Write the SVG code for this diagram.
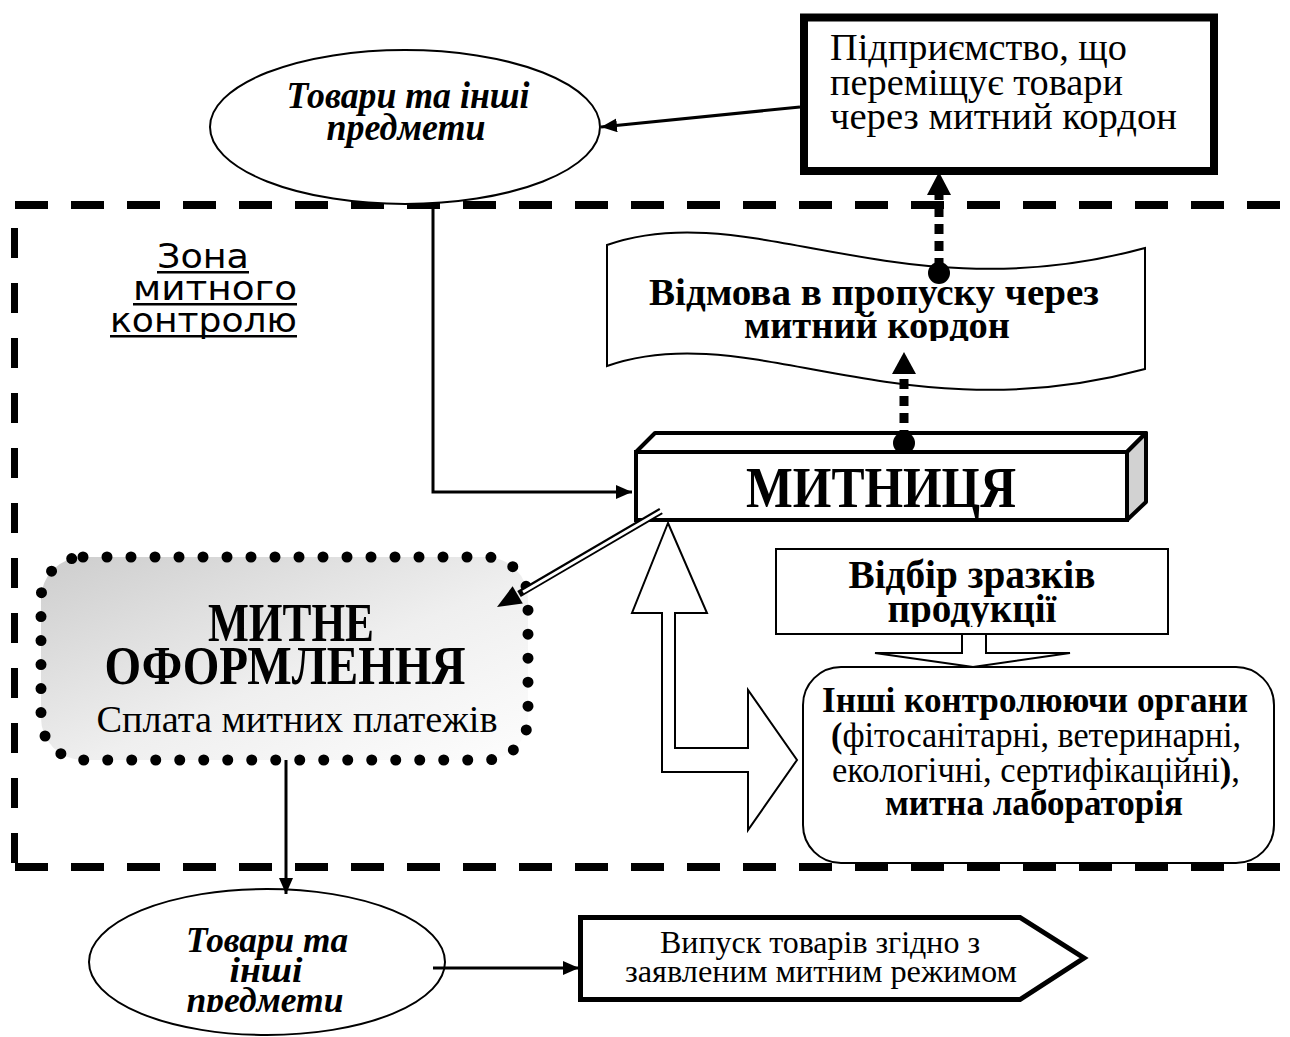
<svg xmlns="http://www.w3.org/2000/svg" width="1290" height="1037" viewBox="0 0 1290 1037">
<defs>
<style>
text{font-family:"Liberation Serif","Times New Roman",serif;fill:#000}
.b{font-weight:bold}
.bi{font-weight:bold;font-style:italic}
.zone{font-family:"DejaVu Sans","Liberation Sans",sans-serif;font-size:33px}
.thin{fill:#fff;stroke:#000;stroke-width:2}
.ln{fill:none;stroke:#000;stroke-width:3}
.dash{fill:none;stroke:#000;stroke-width:8;stroke-dasharray:33 23}
.dots{fill:none;stroke:#000;stroke-width:9;stroke-dasharray:10 7}
</style>
<marker id="arr" markerUnits="userSpaceOnUse" markerWidth="18" markerHeight="16" refX="16" refY="7" orient="auto"><path d="M0,0 L16,7 L0,14 z" fill="#000"/></marker>
<linearGradient id="grad" x1="0" y1="0" x2="1" y2="1">
<stop offset="0" stop-color="#cdcdcd"/>
<stop offset="0.55" stop-color="#efefef"/>
<stop offset="1" stop-color="#fdfdfd"/>
</linearGradient>
<clipPath id="clipBanner"><rect x="600" y="220" width="560" height="121"/></clipPath>
<clipPath id="clipVidbir"><rect x="770" y="540" width="410" height="87"/></clipPath>
<clipPath id="clipBottom"><rect x="80" y="880" width="380" height="132"/></clipPath>
</defs>
<rect width="1290" height="1037" fill="#fff"/>

<g id="zone-frame">
<line class="dash" x1="15" y1="205" x2="1283" y2="205"/>
<line class="dash" x1="15" y1="867" x2="1283" y2="867"/>
<line x1="14.5" y1="228" x2="14.5" y2="866" stroke="#000" stroke-width="7" stroke-dasharray="30 25"/>
<text class="zone" x="157" y="268" textLength="92" lengthAdjust="spacingAndGlyphs">Зона</text>
<rect x="157" y="271" width="92" height="2.5"/>
<text class="zone" x="133" y="300" textLength="164" lengthAdjust="spacingAndGlyphs">митного</text>
<rect x="133" y="303" width="164" height="2.5"/>
<text class="zone" x="110" y="332" textLength="187" lengthAdjust="spacingAndGlyphs">контролю</text>
<rect x="110" y="335" width="187" height="2.5"/>
</g>

<g id="node-goods-top">
<ellipse cx="405" cy="127" rx="195" ry="77" class="thin"/>
<text class="bi" font-size="38" x="408" y="108" text-anchor="middle" textLength="243" lengthAdjust="spacingAndGlyphs">Товари та інші</text>
<text class="bi" font-size="38" x="406" y="140" text-anchor="middle" textLength="159" lengthAdjust="spacingAndGlyphs">предмети</text>
</g>

<g id="node-enterprise">
<rect x="804" y="17.5" width="410" height="153.5" fill="#fff" stroke="#000" stroke-width="8"/>
<text font-size="38" x="830" y="60" textLength="297" lengthAdjust="spacingAndGlyphs">Підприємство, що</text>
<text font-size="38" x="830" y="95" textLength="293" lengthAdjust="spacingAndGlyphs">переміщує товари</text>
<text font-size="38" x="830" y="129" textLength="347" lengthAdjust="spacingAndGlyphs">через митний кордон</text>
</g>

<g id="node-refusal">
<path d="M607,245 C750,195 900,315 1145,248 L1145,369 C900,436 750,316 607,366 Z" class="thin"/>
<g clip-path="url(#clipBanner)">
<text class="b" font-size="38" x="874" y="305" text-anchor="middle" textLength="450" lengthAdjust="spacingAndGlyphs">Відмова в пропуску через</text>
<text class="b" font-size="38" x="877" y="338" text-anchor="middle" textLength="266" lengthAdjust="spacingAndGlyphs">митний кордон</text>
</g>
</g>

<g id="node-customs">
<polygon points="636,452 655,433 1146,433 1127,452" fill="#fff" stroke="#000" stroke-width="4" stroke-linejoin="round"/>
<polygon points="1127,452 1146,433 1146,502 1127,520" fill="#d2d2d2" stroke="#000" stroke-width="4" stroke-linejoin="round"/>
<rect x="636" y="452" width="491" height="68" fill="#fff" stroke="#000" stroke-width="4"/>
<text class="b" font-size="56" x="881" y="507" text-anchor="middle" textLength="270" lengthAdjust="spacingAndGlyphs">МИТНИЦЯ</text>
</g>

<g id="node-clearance">
<rect x="41" y="557" width="487" height="203" rx="42" fill="url(#grad)" stroke="#000" stroke-width="11" stroke-dasharray="0 24" stroke-linecap="round"/>
<text class="b" font-size="54" x="291" y="641" text-anchor="middle" textLength="166" lengthAdjust="spacingAndGlyphs">МИТНЕ</text>
<text class="b" font-size="54" x="285" y="684" text-anchor="middle" textLength="361" lengthAdjust="spacingAndGlyphs">ОФОРМЛЕННЯ</text>
<text font-size="37" x="297" y="732" text-anchor="middle" textLength="401" lengthAdjust="spacingAndGlyphs">Сплата митних платежів</text>
</g>

<g id="node-sampling">
<rect x="776" y="549" width="392" height="85" class="thin"/>
<g clip-path="url(#clipVidbir)">
<text class="b" font-size="40" x="972" y="588" text-anchor="middle" textLength="247" lengthAdjust="spacingAndGlyphs">Відбір зразків</text>
<text class="b" font-size="40" x="972" y="622" text-anchor="middle" textLength="169" lengthAdjust="spacingAndGlyphs">продукції</text>
</g>
</g>

<g id="node-other-bodies">
<rect x="803" y="667" width="471" height="196" rx="38" class="thin"/>
<text class="b" font-size="35" x="1035" y="712" text-anchor="middle" textLength="426" lengthAdjust="spacingAndGlyphs">Інші контролюючи органи</text>
<text font-size="35" x="1036" y="747" text-anchor="middle" textLength="410" lengthAdjust="spacingAndGlyphs"><tspan class="b">(</tspan>фітосанітарні, ветеринарні,</text>
<text font-size="35" x="1036" y="782" text-anchor="middle" textLength="408" lengthAdjust="spacingAndGlyphs">екологічні, сертифікаційні<tspan class="b">)</tspan>,</text>
<text class="b" font-size="35" x="1034" y="815" text-anchor="middle" textLength="298" lengthAdjust="spacingAndGlyphs">митна лабораторія</text>
</g>

<g id="node-goods-bottom">
<ellipse cx="267" cy="962" rx="178" ry="73" class="thin"/>
<g clip-path="url(#clipBottom)">
<text class="bi" font-size="36" x="267" y="952" text-anchor="middle" textLength="162" lengthAdjust="spacingAndGlyphs">Товари та</text>
<text class="bi" font-size="36" x="266" y="982" text-anchor="middle" textLength="73" lengthAdjust="spacingAndGlyphs">інші</text>
<text class="bi" font-size="36" x="265" y="1012" text-anchor="middle" textLength="157" lengthAdjust="spacingAndGlyphs">предмети</text>
</g>
</g>

<g id="node-release">
<polygon points="580.5,917.5 1020,917.5 1084,958 1020,999.5 580.5,999.5" fill="#fff" stroke="#000" stroke-width="5" stroke-linejoin="miter"/>
<text font-size="31" x="820" y="953" text-anchor="middle" textLength="320" lengthAdjust="spacingAndGlyphs">Випуск товарів згідно з</text>
<text font-size="31" x="821" y="982" text-anchor="middle" textLength="392" lengthAdjust="spacingAndGlyphs">заявленим митним режимом</text>
</g>

<g id="connectors">
<line class="ln" x1="800" y1="107" x2="601" y2="127" marker-end="url(#arr)"/>
<polyline class="ln" points="433,203 433,492 632,492" marker-end="url(#arr)"/>
<line class="dots" x1="939" y1="268" x2="939" y2="194"/>
<polygon points="939,172 927,195 951,195"/>
<circle cx="939" cy="273" r="11"/>
<line class="dots" x1="904" y1="440" x2="904" y2="373"/>
<polygon points="904,352 892,374 916,374"/>
<circle cx="904" cy="443" r="11"/>
<line x1="661" y1="511" x2="519" y2="594" stroke="#000" stroke-width="7"/>
<line x1="663" y1="510" x2="523" y2="592" stroke="#fff" stroke-width="3"/>
<polygon points="497,607 512.6,586.2 522.8,603.4"/>
<polygon points="668,523 707,613 675,613 675,748 748,748 748,690 797,760 748,830 748,772 662,772 662,613 632,613" class="thin" stroke-linejoin="miter"/>
<polygon points="962,634 962,653 875,653 973,667 1070,653 986,653 986,634" class="thin"/>
<line class="ln" x1="286" y1="760" x2="286" y2="894" marker-end="url(#arr)"/>
<line class="ln" x1="433" y1="968" x2="579" y2="968" marker-end="url(#arr)"/>
</g>
</svg>
